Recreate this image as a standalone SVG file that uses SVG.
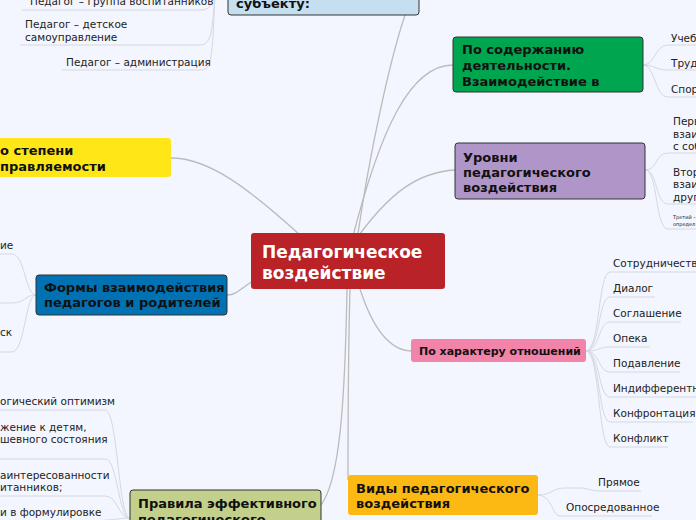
<svg xmlns="http://www.w3.org/2000/svg" width="696" height="520" viewBox="0 0 696 520">
<style>
.b{font-family:"DejaVu Sans",Verdana,sans-serif;font-weight:bold;font-size:13px;fill:#111}
.t{font-family:"DejaVu Sans",Verdana,sans-serif;font-size:10.5px;fill:#222}
.c{fill:none;stroke:#bbbbbb;stroke-width:1.3}
.l{fill:none;stroke:#d4d8e0;stroke-width:1}
.bx{stroke:#333;stroke-width:1}
</style>
<rect width="696" height="520" fill="#f3f6fe"/>
<g id="connectors">
<path class="c" d="M357 240 C 370 150, 390 60, 405 15"/>
<path class="c" d="M352 240 C 380 130, 410 65, 453 65"/>
<path class="c" d="M352 245 C 390 190, 420 172, 455 170"/>
<path class="c" d="M300 235 C 250 190, 210 158, 171 158"/>
<path class="c" d="M251 282 C 240 290, 235 295, 227 295"/>
<path class="c" d="M360 289 C 370 320, 385 350, 411 351"/>
<path class="c" d="M350 289 C 348 360, 348 440, 348 480"/>
<path class="c" d="M347 289 C 345 400, 340 480, 321 505"/>
<!-- top subchildren -->
<path class="l" d="M215 -5 C 212 5, 210 10, 200 10 L 22 10"/>
<path class="l" d="M215 -5 C 212 30, 212 45, 200 45 L 20 45"/>
<path class="l" d="M215 -5 C 212 60, 212 70, 200 70 L 62 70"/>
<!-- green children -->
<path class="l" d="M643 65 C 655 65, 655 45, 668 45 L 696 45"/>
<path class="l" d="M643 65 C 655 65, 655 70, 668 70 L 696 70"/>
<path class="l" d="M643 65 C 655 65, 655 97, 668 97 L 696 97"/>
<!-- purple children -->
<path class="l" d="M645 170 C 658 170, 655 153, 668 153 L 696 153"/>
<path class="l" d="M645 170 C 658 170, 655 204, 668 204 L 696 204"/>
<path class="l" d="M645 170 C 658 170, 655 229, 668 229 L 696 229"/>
<!-- blue children -->
<path class="l" d="M36 295 C 25 295, 25 254, 12 254 L 0 254"/>
<path class="l" d="M36 295 C 25 295, 25 303, 12 303 L 0 303"/>
<path class="l" d="M36 295 C 25 295, 25 352, 12 352 L 0 352"/>
<!-- pink children -->
<path class="l" d="M586 351 C 600 351, 598 272, 610 272 L 696 272"/>
<path class="l" d="M586 351 C 600 351, 598 297, 610 297 L 655 297"/>
<path class="l" d="M586 351 C 600 351, 598 322, 610 322 L 681 322"/>
<path class="l" d="M586 351 C 600 351, 598 347, 610 347 L 650 347"/>
<path class="l" d="M586 351 C 600 351, 598 372, 610 372 L 680 372"/>
<path class="l" d="M586 351 C 600 351, 598 397, 610 397 L 696 397"/>
<path class="l" d="M586 351 C 600 351, 598 422, 610 422 L 693 422"/>
<path class="l" d="M586 351 C 600 351, 598 447, 610 447 L 668 447"/>
<!-- orange children -->
<path class="l" d="M538 495 C 552 495, 552 488, 565 488 L 580 488 C 588 488, 590 491, 600 491 L 641 491"/>
<path class="l" d="M538 495 C 552 495, 552 516, 560 516 L 652 516"/>
<!-- rules children -->
<path class="l" d="M130 518 C 118 518, 118 410, 105 410 L 0 410"/>
<path class="l" d="M130 518 C 118 518, 118 459, 105 459 L 0 459"/>
<path class="l" d="M130 518 C 118 518, 118 496, 105 496 L 0 496"/>
<path class="l" d="M130 518 C 118 518, 118 520, 105 520"/>
</g>
<g id="n-subject"><rect class="bx" x="228" y="-10" width="191" height="25" rx="3" fill="#c5dff0"/><text class="b" x="236" y="8">субъекту:</text></g>
<g id="n-subject-kids">
<text class="t" x="30" y="5">Педагог – группа воспитанников</text>
<text class="t" x="25" y="28">Педагог – детское</text><text class="t" x="25" y="41">самоуправление</text>
<text class="t" x="66" y="66">Педагог – администрация</text>
</g>
<g id="n-yellow"><rect x="-5" y="138" width="176" height="39" rx="3" fill="#ffe617"/><text class="b" x="0" y="155">о степени</text><text class="b" x="0" y="171">правляемости</text></g>
<g id="n-center"><rect x="251" y="233" width="194" height="56" rx="3" fill="#b92227"/><text class="b" x="262" y="258" style="font-size:17px;fill:#fff">Педагогическое</text><text class="b" x="262" y="279" style="font-size:17px;fill:#fff">воздействие</text></g>
<g id="n-green"><rect class="bx" x="453" y="37" width="190" height="55" rx="3" fill="#00a550"/><text class="b" x="462" y="54">По содержанию</text><text class="b" x="462" y="70">деятельности.</text><text class="b" x="462" y="86">Взаимодействие в</text></g>
<g id="n-green-kids"><text class="t" x="671" y="42">Учеб</text><text class="t" x="671" y="67">Труд</text><text class="t" x="671" y="93">Спор</text></g>
<g id="n-purple"><rect class="bx" x="455" y="143" width="190" height="56" rx="3" fill="#b095c8"/><text class="b" x="463" y="162">Уровни</text><text class="b" x="463" y="177">педагогического</text><text class="b" x="463" y="192">воздействия</text></g>
<g id="n-purple-kids">
<text class="t" x="673" y="125">Перв</text><text class="t" x="673" y="138">взаи</text><text class="t" x="673" y="150">с соб</text>
<text class="t" x="673" y="176">Втор</text><text class="t" x="673" y="188">взаи</text><text class="t" x="673" y="201">друг</text>
<text class="t" x="673" y="219" style="font-size:5px">Третий –</text><text class="t" x="673" y="226" style="font-size:5px">определ</text>
</g>
<g id="n-blue"><rect class="bx" x="36" y="275" width="191" height="40" rx="3" fill="#0071b3"/><text class="b" x="44" y="292">Формы взаимодействия</text><text class="b" x="44" y="307">педагогов и родителей</text></g>
<g id="n-blue-kids"><text class="t" x="0" y="249">ие</text><text class="t" x="0" y="336">ск</text></g>
<g id="n-pink"><rect x="411" y="339" width="175" height="23" rx="3" fill="#f283a9"/><text class="b" x="419" y="355" style="font-size:11px">По характеру отношений</text></g>
<g id="n-pink-kids">
<text class="t" x="613" y="267">Сотрудничество</text><text class="t" x="613" y="292">Диалог</text><text class="t" x="613" y="317">Соглашение</text><text class="t" x="613" y="342">Опека</text><text class="t" x="613" y="367">Подавление</text><text class="t" x="613" y="392">Индифферентность</text><text class="t" x="613" y="417">Конфронтация</text><text class="t" x="613" y="442">Конфликт</text>
</g>
<g id="n-orange"><rect x="348" y="475" width="190" height="40" rx="3" fill="#fdb913"/><text class="b" x="356" y="493">Виды педагогического</text><text class="b" x="356" y="508">воздействия</text></g>
<g id="n-orange-kids"><text class="t" x="598" y="486">Прямое</text><text class="t" x="566" y="511">Опосредованное</text></g>
<g id="n-rules"><rect class="bx" x="130" y="490" width="191" height="40" rx="3" fill="#c2d08c"/><text class="b" x="138" y="508">Правила эффективного</text><text class="b" x="138" y="524">педагогического</text></g>
<g id="n-rules-kids">
<text class="t" x="0" y="405">огический оптимизм</text>
<text class="t" x="0" y="431">жение к детям,</text><text class="t" x="0" y="443">шевного состояния</text>
<text class="t" x="0" y="479">аинтересованности</text><text class="t" x="0" y="491">итанников;</text>
<text class="t" x="0" y="516">и в формулировке</text>
</g>
</svg>
